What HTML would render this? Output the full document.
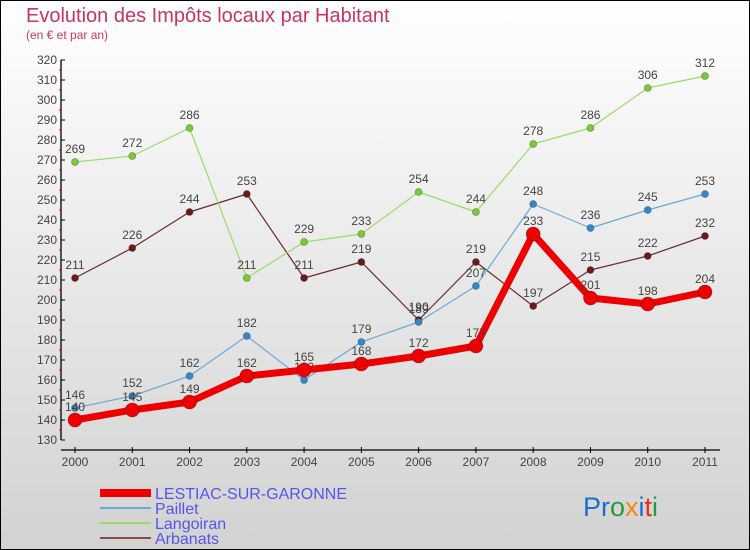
<!DOCTYPE html>
<html><head><meta charset="utf-8"><style>
html,body{margin:0;padding:0}
body{width:750px;height:550px;overflow:hidden;font-family:"Liberation Sans",sans-serif}
svg{display:block}
</style></head><body>
<svg id="chart" width="750" height="550" xmlns="http://www.w3.org/2000/svg">
<defs><linearGradient id="bg" x1="0" y1="0" x2="0" y2="1"><stop offset="0" stop-color="#ffffff"/><stop offset="1" stop-color="#d2d2d2"/></linearGradient></defs>
<rect x="0.5" y="0.5" width="749" height="549" fill="url(#bg)" stroke="#000"/>
<text x="26" y="22" font-size="20" fill="#c8336a">Evolution des Impôts locaux par Habitant</text>
<text x="26" y="39" font-size="12" fill="#c8336a">(en € et par an)</text>
<g id="axes"></g>
<g id="series"></g>
<g id="legend"></g>
<g font-size="27" font-family="Liberation Sans, sans-serif">
<text x="583" y="516"><tspan fill="#1a6fcf">Pr</tspan><tspan fill="#2a9a3a">o</tspan><tspan fill="#f08a10">x</tspan><tspan fill="#1a6fcf">i</tspan><tspan fill="#e83010">t</tspan><tspan fill="#2a9a3a">i</tspan></text>
</g>
</svg>
<script>
const years=[2000,2001,2002,2003,2004,2005,2006,2007,2008,2009,2010,2011];
const lestiac=[140,145,149,162,165,168,172,177,233,201,198,204];
const paillet=[146,152,162,182,160,179,189,207,248,236,245,253];
const langoiran=[269,272,286,211,229,233,254,244,278,286,306,312];
const arbanats=[211,226,244,253,211,219,190,219,197,215,222,232];
const yTicks=[130,140,150,160,170,180,190,200,210,220,230,240,250,260,270,280,290,300,310,320];
const NS='http://www.w3.org/2000/svg';
const x=i=>75+i*(630/11);
const y=v=>60+(320-v)*2;
function mk(tag,attrs,parent){const e=document.createElementNS(NS,tag);for(const k in attrs)e.setAttribute(k,attrs[k]);parent.appendChild(e);return e;}
const axes=document.getElementById('axes');
let a=mk('line',{x1:61,y1:y(320),x2:61,y2:y(130),stroke:'#000','stroke-width':1.3},axes);


let xa=mk('line',{x1:61,y1:450,x2:720,y2:450,stroke:'#000','stroke-width':1.3},axes);


yTicks.forEach(v=>{
  mk('line',{x1:61,y1:y(v),x2:65,y2:y(v),stroke:'#000'},axes);
  if(v<320) mk('line',{x1:59,y1:y(v+5),x2:62,y2:y(v+5),stroke:'#e00'},axes);
  const t=mk('text',{x:57,y:y(v)+4,'font-size':12,fill:'#444','text-anchor':'end'},axes);
  t.textContent=v;
  
  
});
years.forEach((yr,i)=>{
  mk('line',{x1:x(i),y1:447,x2:x(i),y2:453,stroke:'#000'},axes);
  const t=mk('text',{x:x(i),y:466,'font-size':12,fill:'#444','text-anchor':'middle'},axes);
  t.textContent=yr;
  
  
});
const S=document.getElementById('series');
function draw(vals,color,dot,w,r,name){
  const g=mk('g',{},S);
  
  
  mk('polyline',{points:vals.map((v,i)=>x(i)+','+y(v)).join(' '),fill:'none',stroke:color,'stroke-width':w,'stroke-linejoin':'round'},g);
  vals.forEach((v,i)=>{
    const c=mk('circle',{cx:x(i),cy:y(v),r:r,fill:dot,stroke:'rgba(0,0,0,0.3)','stroke-width':0.8},g);
    
    
    const t=mk('text',{x:x(i),y:y(v)-9,'font-size':12,fill:'#444','text-anchor':'middle'},g);
    t.textContent=v;
    
    
  });
}
draw(arbanats,'#6b2a2a','#6b1a1a',1.2,3.5,'arbanats-series');
draw(langoiran,'#99dd66','#77cc33',1.2,3.5,'langoiran-series');
draw(paillet,'#6aaad8','#3388cc',1.2,3.5,'paillet-series');
draw(lestiac,'#ee0000','#ee0000',7,7,'lestiac-series');
const L=document.getElementById('legend');
const items=[['LESTIAC-SUR-GARONNE','#ee0000',8],['Paillet','#6aaad8',2],['Langoiran','#99dd66',2],['Arbanats','#8a4a4a',2]];
items.forEach((it,i)=>{
  const yy=493+i*15;
  const g=mk('g',{},L);
  
  
  mk('line',{x1:100,y1:yy,x2:151,y2:yy,stroke:it[1],'stroke-width':it[2]},g);
  const t=mk('text',{x:155,y:yy+6,'font-size':16,fill:'#5555ee'},g);
  t.textContent=it[0];
});
</script>
</body></html>
